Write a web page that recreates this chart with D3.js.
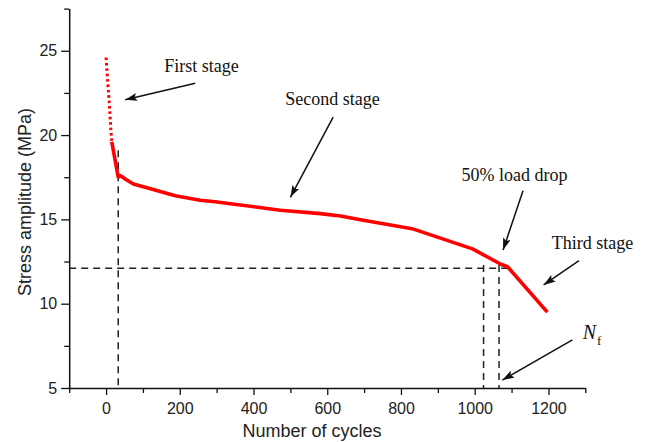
<!DOCTYPE html>
<html><head><meta charset="utf-8">
<script src="https://cdn.jsdelivr.net/npm/d3@7"></script>
<style>body{margin:0;background:#fff}</style>
</head><body><svg id="c" width="646" height="442"></svg>
<script>
// ---- data ----
const firstStageN = [0, 3, 6, 9, 11, 13, 15.5];
const firstStageS = [24.6, 23.6, 22.7, 21.8, 21.1, 20.3, 19.6];
const mainN = [15.5, 33, 38, 55, 74, 106, 188, 255, 296, 473, 581, 636, 690, 830, 994, 1071, 1089, 1197];
const mainS = [19.6, 17.5, 17.6, 17.35, 17.1, 16.9, 16.4, 16.13, 16.05, 15.54, 15.34, 15.2, 14.98, 14.45, 13.25, 12.34, 12.19, 9.5];
const xTicks = [0, 200, 400, 600, 800, 1000, 1200];
const xMinorTicks = [-100, 100, 300, 500, 700, 900, 1100, 1300];
const yTicks = [5, 10, 15, 20, 25];
const yMinorTicks = [7.5, 12.5, 17.5, 22.5, 27.5];
const xTitle = "Number of cycles";
const yTitle = "Stress amplitude (MPa)";
// reference dashed lines (data coordinates)
const loadDropS = 12.1, loadDropEndN = 1098;
const vLineN = [33, 1024, 1066];
const vLineTopS = [19.1, 12.3, 12.3];
// annotations (data coordinates)
const annLabels = ["First stage", "Second stage", "50% load drop", "Third stage"];
const annTextN = [158, 486, 964, 1209];
const annTextS = [23.75, 21.78, 17.3, 13.24];
const arrowFromN = [242, 616, 1131, 1283, 1265];
const arrowFromS = [23.07, 21.06, 16.7, 12.55, 7.85];
const arrowToN = [52, 500, 1077, 1187, 1075];
const arrowToS = [22.1, 16.31, 13.19, 11.11, 5.47];
const nfN = 1293, nfS = 7.9;

// ---- drawing ----
const svg = d3.select("#c");
svg.append("rect").attr("width", 646).attr("height", 442).attr("fill", "#fff");
const x = d3.scaleLinear().domain([-100, 1300]).range([69.2, 585.3]);
const y = d3.scaleLinear().domain([5, 27.5]).range([388, 8.6]);

const defs = svg.append("defs");
defs.append("marker").attr("id", "ah").attr("markerUnits", "userSpaceOnUse")
  .attr("markerWidth", 13).attr("markerHeight", 8).attr("refX", 12).attr("refY", 4)
  .attr("orient", "auto")
  .append("path").attr("d", "M0,0 L12,4 L0,8 L2.5,4 Z").attr("fill", "#111");

// axes
const axisFont = "'Liberation Sans', Arial, sans-serif";
const gx = svg.append("g").attr("transform", `translate(0,${y(5)})`)
  .call(d3.axisBottom(x).tickValues(xTicks).tickSize(7).tickSizeOuter(0).tickPadding(8).tickFormat(d3.format("d")));
svg.append("g").attr("transform", `translate(0,${y(5)})`)
  .call(d3.axisBottom(x).tickValues(xMinorTicks).tickSize(5).tickSizeOuter(0).tickFormat(""))
  .select(".domain").remove();
const gy = svg.append("g").attr("transform", `translate(${x(-100)},0)`)
  .call(d3.axisLeft(y).tickValues(yTicks).tickSize(8).tickSizeOuter(0).tickPadding(4).tickFormat(d3.format("d")));
svg.append("g").attr("transform", `translate(${x(-100)},0)`)
  .call(d3.axisLeft(y).tickValues(yMinorTicks).tickSize(5).tickSizeOuter(0).tickFormat(""))
  .select(".domain").remove();
// extend y axis line to top
svg.selectAll(".domain").attr("stroke", "#111").attr("stroke-width", 1.5);
svg.selectAll(".tick line").attr("stroke", "#111").attr("stroke-width", 1.3);
svg.selectAll(".tick text").attr("font-family", axisFont).attr("font-size", 16).attr("fill", "#222");

svg.append("text").attr("x", 312).attr("y", 437).attr("text-anchor", "middle")
  .attr("font-family", axisFont).attr("font-size", 18).attr("fill", "#222").text(xTitle);
svg.append("text").attr("transform", `translate(31,202) rotate(-90)`).attr("text-anchor", "middle")
  .attr("font-family", axisFont).attr("font-size", 18).attr("fill", "#222").text(yTitle);

// dashed reference lines
const dash = "7,5";
svg.append("line").attr("x1", x(-100)).attr("x2", x(loadDropEndN)).attr("y1", y(loadDropS)).attr("y2", y(loadDropS))
  .attr("stroke", "#222").attr("stroke-width", 1.5).attr("stroke-dasharray", dash);
vLineN.forEach((n, i) => {
  svg.append("line").attr("x1", x(n)).attr("x2", x(n)).attr("y1", y(vLineTopS[i])).attr("y2", y(5))
    .attr("stroke", "#222").attr("stroke-width", 1.5).attr("stroke-dasharray", dash);
});

// data curve
const line = d3.line().x(d => x(d[0])).y(d => y(d[1]));
svg.append("path").datum(firstStageN.map((n, i) => [n, firstStageS[i]]))
  .attr("d", line).attr("fill", "none").attr("stroke", "#ff0000").attr("stroke-width", 3)
  .attr("stroke-dasharray", "2.6,2.8");
svg.append("path").datum(mainN.map((n, i) => [n, mainS[i]]))
  .attr("d", line).attr("fill", "none").attr("stroke", "#ff0000").attr("stroke-width", 3.6)
  .attr("stroke-linejoin", "round");

// annotations
const serif = "'Liberation Serif', 'Times New Roman', serif";
annLabels.forEach((t, i) => {
  svg.append("text").attr("x", x(annTextN[i])).attr("y", y(annTextS[i]))
    .attr("font-family", serif).attr("font-size", 18).attr("fill", "#111").text(t);
});
arrowFromN.forEach((n, i) => {
  svg.append("line").attr("x1", x(n)).attr("y1", y(arrowFromS[i])).attr("x2", x(arrowToN[i])).attr("y2", y(arrowToS[i]))
    .attr("stroke", "#111").attr("stroke-width", 1.5).attr("marker-end", "url(#ah)");
});
const nf = svg.append("text").attr("x", x(nfN)).attr("y", y(nfS))
  .attr("font-family", serif).attr("font-size", 20).attr("fill", "#111");
nf.append("tspan").attr("font-style", "italic").text("N");
nf.append("tspan").attr("font-size", 13).attr("dy", 6).attr("dx", 1).text("f");
</script></body></html>
